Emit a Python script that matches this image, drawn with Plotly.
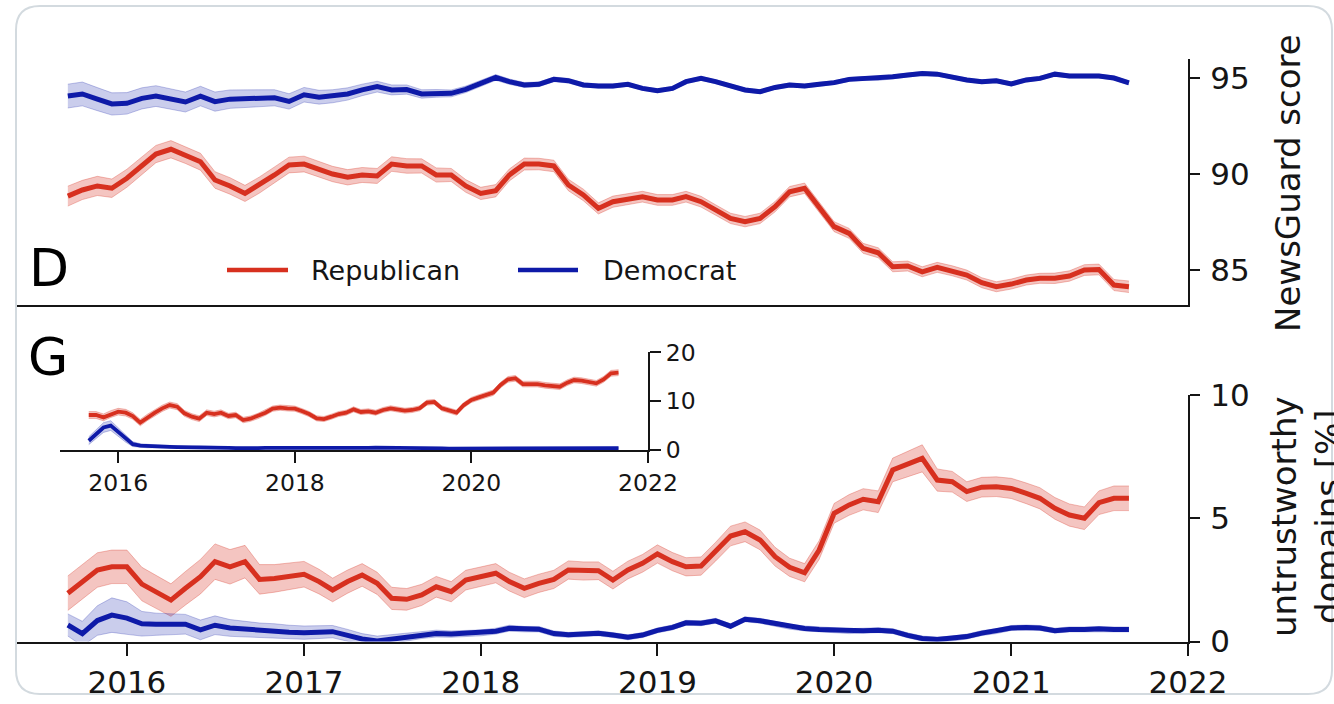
import pandas as pd
import plotly.graph_objects as go

# Monthly time points, Sep 2015 – Sep 2021
months = pd.date_range("2015-09-01", periods=73, freq="MS")

# Panel D: mean NewsGuard score of shared domains
newsguard_rep = [88.85, 89.17, 89.38, 89.26, 89.78, 90.42, 91.04, 91.29, 90.99, 90.64,
                 89.69, 89.38, 88.99, 89.43, 89.95, 90.47, 90.52, 90.24, 90.00, 89.83,
                 89.95, 89.90, 90.52, 90.42, 90.42, 89.95, 89.95, 89.38, 88.99, 89.13,
                 89.95, 90.52, 90.52, 90.42, 89.43, 88.91, 88.21, 88.56, 88.68, 88.82,
                 88.65, 88.65, 88.82, 88.56, 88.13, 87.69, 87.52, 87.69, 88.30, 89.08,
                 89.26, 88.30, 87.26, 86.91, 86.13, 85.90, 85.17, 85.21, 84.91, 85.14,
                 84.96, 84.74, 84.34, 84.13, 84.27, 84.48, 84.57, 84.57, 84.69, 85.00,
                 85.03, 84.22, 84.13]
newsguard_rep_ci = [0.52, 0.50, 0.50, 0.48, 0.47, 0.46, 0.45, 0.45, 0.44, 0.44,
                    0.43, 0.43, 0.42, 0.42, 0.42, 0.41, 0.41, 0.40, 0.40, 0.40,
                    0.39, 0.39, 0.38, 0.38, 0.37, 0.37, 0.34, 0.33, 0.32, 0.32,
                    0.31, 0.31, 0.30, 0.30, 0.30, 0.30, 0.29, 0.29, 0.29, 0.28,
                    0.28, 0.28, 0.28, 0.28, 0.27, 0.27, 0.27, 0.27, 0.27, 0.27,
                    0.27, 0.26, 0.26, 0.26, 0.26, 0.26, 0.26, 0.26, 0.26, 0.26,
                    0.26, 0.26, 0.26, 0.26, 0.26, 0.26, 0.26, 0.27, 0.27, 0.28,
                    0.28, 0.29, 0.30]
newsguard_dem = [94.06, 94.17, 93.90, 93.65, 93.68, 93.94, 94.06, 93.90, 93.75, 94.06,
                 93.77, 93.90, 93.93, 93.94, 93.97, 93.78, 94.13, 94.00, 94.05, 94.17,
                 94.38, 94.55, 94.38, 94.40, 94.17, 94.20, 94.20, 94.41, 94.72, 95.03,
                 94.81, 94.64, 94.67, 94.93, 94.86, 94.64, 94.58, 94.58, 94.67, 94.46,
                 94.34, 94.46, 94.81, 94.98, 94.81, 94.58, 94.38, 94.29, 94.51, 94.64,
                 94.58, 94.67, 94.76, 94.93, 94.98, 94.97, 95.07, 95.16, 95.24, 95.20,
                 95.03, 94.90, 94.81, 94.86, 94.69, 94.90, 94.98, 95.20, 95.10, 95.10,
                 95.10, 95.00, 94.75]
newsguard_dem_ci = [0.62, 0.62, 0.60, 0.58, 0.56, 0.55, 0.54, 0.53, 0.52, 0.51,
                    0.50, 0.48, 0.46, 0.44, 0.42, 0.40, 0.38, 0.36, 0.34, 0.32,
                    0.30, 0.28, 0.26, 0.24, 0.22, 0.20, 0.18, 0.17, 0.16, 0.15,
                    0.14, 0.13, 0.12, 0.12, 0.12, 0.11, 0.11, 0.11, 0.10, 0.10,
                    0.10, 0.10, 0.10, 0.10, 0.10, 0.10, 0.10, 0.10, 0.10, 0.10,
                    0.10, 0.10, 0.10, 0.10, 0.10, 0.10, 0.10, 0.10, 0.10, 0.10,
                    0.10, 0.10, 0.10, 0.10, 0.10, 0.10, 0.10, 0.10, 0.10, 0.10,
                    0.10, 0.10, 0.10]

# Panel G: share of untrustworthy domains [%]
untrust_rep = [1.96, 2.43, 2.90, 3.03, 3.03, 2.33, 2.02, 1.68, 2.16, 2.63,
               3.24, 3.03, 3.24, 2.52, 2.56, 2.63, 2.73, 2.43, 2.09, 2.43,
               2.70, 2.36, 1.75, 1.71, 1.89, 2.22, 2.02, 2.49, 2.63, 2.77,
               2.43, 2.16, 2.36, 2.52, 2.90, 2.86, 2.87, 2.49, 2.90, 3.17,
               3.55, 3.24, 3.03, 3.06, 3.64, 4.28, 4.45, 4.12, 3.44, 3.01,
               2.79, 3.71, 5.20, 5.54, 5.77, 5.67, 6.96, 7.20, 7.43, 6.55,
               6.48, 6.08, 6.26, 6.28, 6.21, 6.01, 5.81, 5.40, 5.13, 5.00,
               5.63, 5.81, 5.81]
untrust_rep_ci = [0.70, 0.70, 0.70, 0.68, 0.68, 0.68, 0.66, 0.66, 0.68, 0.70,
                  0.72, 0.70, 0.66, 0.60, 0.56, 0.54, 0.52, 0.50, 0.48, 0.47,
                  0.46, 0.45, 0.45, 0.44, 0.43, 0.42, 0.41, 0.40, 0.40, 0.39,
                  0.38, 0.38, 0.37, 0.37, 0.37, 0.37, 0.36, 0.36, 0.36, 0.36,
                  0.37, 0.37, 0.37, 0.37, 0.38, 0.40, 0.40, 0.40, 0.38, 0.37,
                  0.37, 0.38, 0.40, 0.42, 0.43, 0.44, 0.48, 0.52, 0.55, 0.45,
                  0.42, 0.40, 0.40, 0.40, 0.41, 0.42, 0.43, 0.44, 0.45, 0.46,
                  0.48, 0.50, 0.50]
untrust_dem = [0.67, 0.32, 0.85, 1.07, 0.95, 0.72, 0.70, 0.70, 0.70, 0.47,
               0.66, 0.55, 0.50, 0.45, 0.42, 0.38, 0.36, 0.38, 0.40, 0.25,
               0.10, 0.02, 0.10, 0.20, 0.27, 0.32, 0.30, 0.33, 0.35, 0.42,
               0.54, 0.50, 0.50, 0.32, 0.27, 0.30, 0.33, 0.26, 0.17, 0.26,
               0.45, 0.57, 0.76, 0.74, 0.84, 0.62, 0.90, 0.84, 0.72, 0.60,
               0.53, 0.49, 0.46, 0.42, 0.44, 0.46, 0.42, 0.25, 0.12, 0.08,
               0.12, 0.20, 0.34, 0.42, 0.55, 0.57, 0.55, 0.44, 0.49, 0.49,
               0.52, 0.49, 0.49]
untrust_dem_ci = [0.45, 0.50, 0.60, 0.70, 0.66, 0.50, 0.45, 0.42, 0.40, 0.40,
                  0.38, 0.34, 0.32, 0.30, 0.30, 0.28, 0.27, 0.26, 0.25, 0.24,
                  0.22, 0.20, 0.18, 0.16, 0.15, 0.14, 0.13, 0.13, 0.12, 0.12,
                  0.12, 0.11, 0.11, 0.11, 0.10, 0.10, 0.10, 0.10, 0.10, 0.10,
                  0.10, 0.10, 0.10, 0.10, 0.10, 0.10, 0.10, 0.10, 0.10, 0.10,
                  0.10, 0.10, 0.10, 0.10, 0.10, 0.10, 0.10, 0.10, 0.10, 0.10,
                  0.10, 0.10, 0.10, 0.10, 0.10, 0.10, 0.10, 0.10, 0.10, 0.10,
                  0.10, 0.10, 0.10]

# Inset of panel G (0–20 scale)
inset_rep = [7.16, 7.16, 6.68, 7.36, 7.85, 7.64, 6.96, 5.60, 6.68, 7.64,
             8.53, 9.20, 8.87, 7.50, 6.82, 6.41, 7.64, 7.36, 7.64, 6.96,
             7.16, 6.14, 6.41, 6.96, 7.64, 8.46, 8.67, 8.53, 8.46, 7.92,
             7.36, 6.48, 6.34, 6.82, 7.36, 7.64, 8.32, 7.78, 7.92, 7.64,
             8.19, 8.53, 8.32, 8.05, 8.19, 8.53, 9.69, 9.83, 8.53, 8.05,
             7.64, 9.20, 10.24, 10.78, 11.26, 11.74, 13.30, 14.46, 14.67, 13.50,
             13.50, 13.50, 13.24, 13.10, 12.96, 13.78, 14.33, 14.19, 13.99, 13.65,
             14.46, 15.70, 15.83]
inset_rep_ci = [0.70, 0.70, 0.70, 0.70, 0.68, 0.68, 0.66, 0.66, 0.65, 0.64,
                0.64, 0.62, 0.62, 0.60, 0.60, 0.60, 0.58, 0.58, 0.58, 0.56,
                0.56, 0.56, 0.55, 0.55, 0.55, 0.54, 0.54, 0.54, 0.53, 0.53,
                0.53, 0.52, 0.52, 0.52, 0.52, 0.52, 0.52, 0.52, 0.52, 0.52,
                0.52, 0.52, 0.52, 0.52, 0.52, 0.52, 0.52, 0.52, 0.52, 0.52,
                0.52, 0.52, 0.53, 0.54, 0.55, 0.56, 0.57, 0.58, 0.58, 0.58,
                0.58, 0.58, 0.58, 0.58, 0.58, 0.58, 0.58, 0.58, 0.58, 0.58,
                0.60, 0.60, 0.60]
inset_dem = [1.90, 3.20, 4.60, 5.00, 3.70, 2.30, 1.20, 0.90, 0.80, 0.75,
             0.70, 0.65, 0.60, 0.60, 0.55, 0.60, 0.55, 0.50, 0.50, 0.45,
             0.40, 0.35, 0.35, 0.40, 0.45, 0.45, 0.40, 0.40, 0.35, 0.30,
             0.30, 0.30, 0.35, 0.35, 0.40, 0.40, 0.40, 0.45, 0.45, 0.50,
             0.50, 0.45, 0.45, 0.40, 0.40, 0.45, 0.45, 0.40, 0.35, 0.30,
             0.30, 0.30, 0.30, 0.30, 0.30, 0.35, 0.35, 0.35, 0.30, 0.30,
             0.30, 0.35, 0.35, 0.35, 0.40, 0.40, 0.40, 0.40, 0.40, 0.40,
             0.40, 0.40, 0.40]
inset_dem_ci = [0.80, 0.90, 1.00, 1.00, 0.90, 0.70, 0.50, 0.40, 0.35, 0.30,
                0.30, 0.28, 0.26, 0.25, 0.24, 0.24, 0.22, 0.22, 0.20, 0.20,
                0.20, 0.20, 0.20, 0.20, 0.20, 0.20, 0.20, 0.20, 0.20, 0.20,
                0.20, 0.20, 0.20, 0.20, 0.20, 0.20, 0.20, 0.20, 0.20, 0.20,
                0.20, 0.20, 0.20, 0.20, 0.20, 0.20, 0.20, 0.20, 0.20, 0.20,
                0.20, 0.20, 0.20, 0.20, 0.20, 0.20, 0.20, 0.20, 0.20, 0.20,
                0.20, 0.20, 0.20, 0.20, 0.20, 0.20, 0.20, 0.20, 0.20, 0.20,
                0.20, 0.20, 0.20]

year_ticks = ["2016", "2017", "2018", "2019", "2020", "2021", "2022"]
inset_year_ticks = ["2016", "2018", "2020", "2022"]
party_labels = ["Republican", "Democrat"]

W, H = 1334, 704
FONT = "DejaVu Sans"
INK = "#151515"
RED, BLUE = "#d7301f", "#0e1aa8"
RED_FILL, BLUE_FILL = "rgba(215,48,31,0.28)", "rgba(14,26,168,0.22)"
RED_EDGE, BLUE_EDGE = "rgba(215,48,31,0.30)", "rgba(14,26,168,0.25)"


def fx(px):
    return px / W


def fy(py):
    return 1 - py / H


fig = go.Figure()


def add_band_line(values, ci, color, fill, edge, width, xa, ya):
    hi = [v + c for v, c in zip(values, ci)]
    lo = [v - c for v, c in zip(values, ci)]
    common = dict(x=months, mode="lines", xaxis=xa, yaxis=ya,
                  showlegend=False, hoverinfo="skip")
    fig.add_trace(go.Scatter(y=hi, line=dict(color=edge, width=1), **common))
    fig.add_trace(go.Scatter(y=lo, line=dict(color=edge, width=1),
                             fill="tonexty", fillcolor=fill, **common))
    fig.add_trace(go.Scatter(y=values, line=dict(color=color, width=width), **common))


add_band_line(newsguard_rep, newsguard_rep_ci, RED, RED_FILL, RED_EDGE, 5, "x", "y")
add_band_line(newsguard_dem, newsguard_dem_ci, BLUE, BLUE_FILL, BLUE_EDGE, 5, "x", "y")
add_band_line(untrust_rep, untrust_rep_ci, RED, RED_FILL, RED_EDGE, 5, "x2", "y2")
add_band_line(untrust_dem, untrust_dem_ci, BLUE, BLUE_FILL, BLUE_EDGE, 5, "x2", "y2")
add_band_line(inset_rep, inset_rep_ci, RED, RED_FILL, RED_EDGE, 3.8, "x3", "y3")
add_band_line(inset_dem, inset_dem_ci, BLUE, BLUE_FILL, BLUE_EDGE, 3.8, "x3", "y3")

main_xdom = [fx(17), fx(1188)]
main_xrange = ["2015-05-19", "2022-01-01"]
axis_line = dict(showline=True, linecolor=INK, linewidth=2, showgrid=False,
                 zeroline=False, automargin=False)

fig.update_layout(
    template="none",
    width=W, height=H, autosize=False,
    margin=dict(l=0, r=0, t=0, b=0, pad=0),
    paper_bgcolor="white", plot_bgcolor="rgba(0,0,0,0)",
    font=dict(family=FONT, color=INK),
    showlegend=False,
    xaxis=dict(domain=main_xdom, type="date", range=main_xrange, anchor="y",
               ticks="", showticklabels=False, **axis_line),
    yaxis=dict(domain=[fy(305), fy(59)], range=[83.18, 95.99], side="right", anchor="x",
               tickvals=[85, 90, 95], ticks="outside", ticklen=10, tickwidth=2, tickcolor=INK,
               ticklabelstandoff=4, tickfont=dict(size=31, color=INK), **axis_line),
    xaxis2=dict(domain=main_xdom, type="date", range=main_xrange, anchor="y2",
                tickvals=[f"{y}-01-01" for y in year_ticks], ticktext=year_ticks,
                ticks="outside", ticklen=12, tickwidth=2, tickcolor=INK,
                tickfont=dict(size=31, color=INK), **axis_line),
    yaxis2=dict(domain=[fy(641.5), fy(395)], range=[0, 10], side="right", anchor="x2",
                tickvals=[0, 5, 10], ticks="outside", ticklen=10, tickwidth=2, tickcolor=INK,
                ticklabelstandoff=4, tickfont=dict(size=31, color=INK), **axis_line),
    xaxis3=dict(domain=[fx(60), fx(648)], type="date", range=["2015-05-05", "2022-01-01"],
                anchor="y3", tickvals=[f"{y}-01-01" for y in inset_year_ticks],
                ticktext=inset_year_ticks, ticks="outside", ticklen=11, tickwidth=2,
                tickcolor=INK, tickfont=dict(size=23.5, color=INK), **axis_line),
    yaxis3=dict(domain=[fy(450), fy(352.3)], range=[0, 20], side="right", anchor="x3",
                tickvals=[0, 10, 20], ticks="outside", ticklen=11, tickwidth=2, tickcolor=INK,
                tickfont=dict(size=23.5, color=INK), **axis_line),
)

# Rounded outer frame
L, T, R, B, r = 16, 6, 1332, 694, 24
frame = (f"M {fx(L + r)} {fy(T)} L {fx(R - r)} {fy(T)} Q {fx(R)} {fy(T)} {fx(R)} {fy(T + r)} "
         f"L {fx(R)} {fy(B - r)} Q {fx(R)} {fy(B)} {fx(R - r)} {fy(B)} "
         f"L {fx(L + r)} {fy(B)} Q {fx(L)} {fy(B)} {fx(L)} {fy(B - r)} "
         f"L {fx(L)} {fy(T + r)} Q {fx(L)} {fy(T)} {fx(L + r)} {fy(T)} Z")
shapes = [dict(type="path", path=frame, xref="paper", yref="paper",
               line=dict(color="#d3dadf", width=2), layer="below")]

# Legend samples
for (x0, x1), color in zip([(227, 288), (518, 578)], [RED, BLUE]):
    shapes.append(dict(type="line", xref="paper", yref="paper",
                       x0=fx(x0), x1=fx(x1), y0=fy(270), y1=fy(270),
                       line=dict(color=color, width=4.5)))
fig.update_layout(shapes=shapes)

annotations = [
    dict(text="D", x=fx(27), y=fy(268), xanchor="left", yanchor="middle",
         font=dict(size=52, color="black")),
    dict(text="G", x=fx(26), y=fy(357), xanchor="left", yanchor="middle",
         font=dict(size=52, color="black")),
    dict(text=party_labels[0], x=fx(309), y=fy(270), xanchor="left", yanchor="middle",
         font=dict(size=27, color=INK)),
    dict(text=party_labels[1], x=fx(601), y=fy(270), xanchor="left", yanchor="middle",
         font=dict(size=27, color=INK)),
    dict(text="NewsGuard score", x=fx(1288), y=fy(183), xanchor="center", yanchor="middle",
         textangle=-90, font=dict(size=34, color=INK)),
    dict(text="untrustworthy<br>domains [%]", x=fx(1306), y=fy(517), xanchor="center",
         yanchor="middle", textangle=-90, font=dict(size=34, color=INK)),
]
for a in annotations:
    a.update(xref="paper", yref="paper", showarrow=False)
fig.update_layout(annotations=annotations)

fig.write_html("out.html")
